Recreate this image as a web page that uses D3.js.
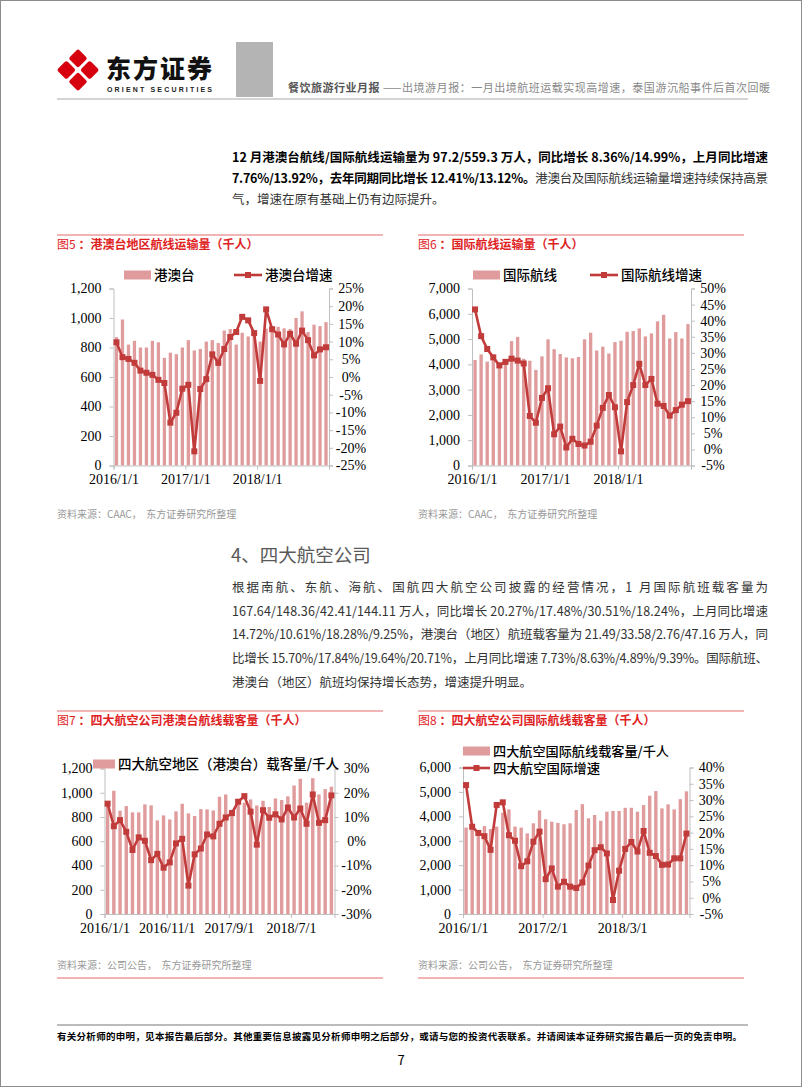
<!DOCTYPE html>
<html>
<head>
<meta charset="utf-8">
<title>餐饮旅游行业月报</title>
<script src="https://cdn.jsdelivr.net/npm/d3@7"></script>
<style>
  body { margin: 0; background: #fff; }
  svg { display: block; font-family: "Noto Sans CJK SC", "Noto Sans", sans-serif; }
  .axis text { font-family: "Liberation Serif", "Times New Roman", serif; font-size: 14px; fill: #000; }
  .axis path, .axis line { stroke: #bfbfbf; }
</style>
</head>
<body>
<svg id="page" width="802" height="1087"></svg>
<script>
// ---- data ----
// 图5 港澳台地区航线运输量（千人），2016/1 - 2018/12
var hkmoBars = [870, 990, 820, 845, 800, 800, 845, 835, 730, 765, 755, 800,
                850, 780, 790, 840, 850, 830, 915, 925, 820, 900, 875, 897,
                840, 928, 915, 940, 930, 925, 1000, 1045, 905, 955, 945, 972];
var hkmoGrowth = [9.8, 5.6, 5.1, 4.0, 1.8, 1.2, 0.6, -0.8, -1.7, -12.9, -10.1, -3.3,
                  -2.2, -21.0, -3.4, -0.6, 6.4, 4.0, 7.9, 11.3, 12.7, 17.0, 16.0, 12.4,
                  -1.1, 19.1, 13.5, 12.0, 9.2, 12.2, 9.4, 13.1, 10.4, 6.1, 7.8, 8.4];
// 图6 国际航线运输量（千人），2016/1 - 2018/12
var intlBars = [4170, 4395, 4105, 4200, 4080, 4180, 4920, 5090, 4220, 4145, 3780, 4315,
                4990, 4600, 4410, 4275, 4240, 4290, 4990, 5250, 4550, 4700, 4430, 4880,
                4935, 5290, 5315, 5420, 5105, 5225, 5700, 5960, 5025, 5275, 5025, 5593];
var intlGrowth = [43.5, 35.2, 31.2, 28.6, 26.1, 27.2, 28.2, 27.6, 26.7, 10.4, 8.3, 16.0,
                  19.0, 4.7, 7.1, 0.6, 3.3, 1.7, 1.2, 2.4, 7.4, 12.9, 16.9, 13.1,
                  -0.6, 14.7, 20.0, 26.6, 20.0, 21.9, 14.2, 13.5, 10.5, 12.2, 13.9, 15.0];
// 图7 四大航空公司港澳台航线载客量（千人），2016/1 - 2019/1
var big4HkBars = [905, 1016, 852, 890, 838, 838, 904, 896, 772, 813, 780, 846,
                  909, 830, 808, 865, 863, 854, 967, 986, 860, 935, 918, 945,
                  895, 934, 882, 953, 940, 970, 1060, 1115, 918, 1120, 986, 1030, 1050];
var big4HkGrowth = [15.5, 6.2, 8.7, 3.9, -3.6, 1.6, 0.2, -7.8, -5.2, -10.9, -8.7, -0.9,
                    1.0, -18.3, -5.4, -3.0, 2.8, 2.0, 7.2, 9.8, 11.6, 16.3, 18.6, 12.2,
                    -1.4, 12.8, 9.7, 11.1, 9.0, 13.9, 9.8, 13.5, 7.2, 19.3, 7.6, 8.7, 18.9];
// 图8 四大航空公司国际航线载客量（千人），2016/1 - 2019/1
var big4IntlBars = [3540, 3560, 3440, 3600, 3480, 3580, 4150, 4285, 3580, 3540, 3300, 3715,
                    4245, 3880, 3780, 3730, 3675, 3715, 4260, 4500, 3920, 4055, 3820, 4190,
                    4220, 4220, 4350, 4350, 4190, 4460, 4845, 5035, 4325, 4490, 4285, 4705, 5025];
var big4IntlGrowth = [34.6, 21.8, 19.9, 18.9, 14.7, 28.5, 29.3, 19.2, 17.5, 9.7, 11.2, 17.2,
                      20.3, 5.7, 9.0, 3.4, 4.9, 3.4, 3.0, 4.7, 9.9, 14.6, 15.5, 13.6,
                      -0.7, 8.3, 15.0, 17.1, 14.2, 20.5, 13.8, 12.8, 10.1, 10.2, 12.1, 12.1, 19.7];

var months36 = d3.timeMonth.range(new Date(2016, 0, 1), new Date(2019, 0, 1));
var months37 = d3.timeMonth.range(new Date(2016, 0, 1), new Date(2019, 1, 1));

var ticks5 = ["2016/1/1", "2017/1/1", "2018/1/1"];
var ticks7 = ["2016/1/1", "2016/11/1", "2017/9/1", "2018/7/1"];
var ticks8 = ["2016/1/1", "2017/2/1", "2018/3/1"];

var barColor = "#e09c9c";
var lineColor = "#c23b3b";
var red = "#e0231f";

var svg = d3.select("#page");

// page frame
svg.append("rect").attr("x", 0.5).attr("y", 0.5).attr("width", 801).attr("height", 1086)
  .attr("fill", "#fff").attr("stroke", "#8c8c8c");

// ---- header ----
var logo = svg.append("g").attr("transform", "translate(78,70) rotate(45)");
[[-15, -15], [1.5, -15], [-15, 1.5], [1.5, 1.5]].forEach(function (p) {
  logo.append("rect").attr("x", p[0]).attr("y", p[1]).attr("width", 13.5).attr("height", 13.5)
    .attr("rx", 2).attr("fill", "#d7000f");
});
svg.append("text").attr("x", 106).attr("y", 78).attr("font-size", 25).attr("font-weight", 900)
  .attr("textLength", 106).attr("fill", "#111").text("东方证券");
svg.append("text").attr("x", 107).attr("y", 92).attr("font-size", 7).attr("font-weight", 700)
  .attr("font-family", "Liberation Sans, Arial, sans-serif")
  .attr("textLength", 105).attr("fill", "#222").text("ORIENT  SECURITIES");
svg.append("rect").attr("x", 236).attr("y", 42).attr("width", 37).attr("height", 55).attr("fill", "#b4b4b4");
var ht = svg.append("text").attr("x", 288).attr("y", 92).attr("font-size", 11).attr("textLength", 482);
ht.append("tspan").attr("font-weight", 700).attr("fill", "#555").text("餐饮旅游行业月报 ");
ht.append("tspan").attr("fill", "#888").text("——出境游月报：一月出境航班运载实现高增速，泰国游沉船事件后首次回暖");
svg.append("line").attr("x1", 57).attr("x2", 748).attr("y1", 99).attr("y2", 99)
  .attr("stroke", "#d4d4d4").attr("stroke-width", 2);

// ---- paragraphs ----
function paragraph(lines, x, y0, lh, width, size) {
  lines.forEach(function (segs, i) {
    var t = svg.append("text").attr("x", x).attr("y", y0 + i * lh).attr("font-size", size);
    if (i < lines.length - 1) t.attr("textLength", width).attr("lengthAdjust", "spacing");
    segs.forEach(function (s) {
      t.append("tspan").attr("font-weight", s[1] ? 700 : 400).attr("fill", s[1] ? "#000" : "#333").text(s[0]);
    });
  });
}
paragraph([
  [["12 月港澳台航线/国际航线运输量为 97.2/559.3 万人，同比增长 8.36%/14.99%，上月同比增速", 1]],
  [["7.76%/13.92%，去年同期同比增长 12.41%/13.12%。", 1], ["港澳台及国际航线运输量增速持续保持高景", 0]],
  [["气，增速在原有基础上仍有边际提升。", 0]]
], 232, 162, 21, 536, 12.5);

svg.append("text").attr("x", 231).attr("y", 562).attr("font-size", 18.5).attr("fill", "#595959").text("4、四大航空公司");
paragraph([
  [["根据南航、东航、海航、国航四大航空公司披露的经营情况，1 月国际航班载客量为", 0]],
  [["167.64/148.36/42.41/144.11 万人，同比增长 20.27%/17.48%/30.51%/18.24%，上月同比增速", 0]],
  [["14.72%/10.61%/18.28%/9.25%，港澳台（地区）航班载客量为 21.49/33.58/2.76/47.16 万人，同", 0]],
  [["比增长 15.70%/17.84%/19.64%/20.71%，上月同比增速 7.73%/8.63%/4.89%/9.39%。国际航班、", 0]],
  [["港澳台（地区）航班均保持增长态势，增速提升明显。", 0]]
], 232, 592, 23.7, 536, 12.5);

// ---- chart helper ----
function figure(cfg) {
  var g = svg.append("g");
  // title and rules
  g.append("line").attr("x1", cfg.fx).attr("x2", cfg.fx + 326).attr("y1", cfg.fy).attr("y2", cfg.fy)
    .attr("stroke", "#e36a6a").attr("stroke-width", 1);
  var tt = g.append("text").attr("x", cfg.fx).attr("y", cfg.fy + 14).attr("font-size", 12).attr("fill", red)
    .attr("xml:space", "preserve");
  tt.append("tspan").text(cfg.title[0]);
  tt.append("tspan").attr("font-weight", 700).text(cfg.title[1]);
  g.append("text").attr("x", cfg.fx).attr("y", cfg.srcY).attr("font-size", 10).attr("fill", "#999")
    .attr("xml:space", "preserve").text(cfg.source);
  if (cfg.bottomRule) {
    g.append("line").attr("x1", cfg.fx).attr("x2", cfg.fx + 326).attr("y1", cfg.bottomRule).attr("y2", cfg.bottomRule)
      .attr("stroke", "#e36a6a").attr("stroke-width", 1);
  }

  var n = cfg.months.length;
  var x = d3.scaleBand().domain(d3.range(n)).range([cfg.left, cfg.right])
    .paddingInner(0.45).paddingOuter(0.225);
  var xt = d3.scaleLinear().domain([0, n]).range([cfg.left, cfg.right]);
  var yL = d3.scaleLinear().domain(cfg.leftDomain).range([cfg.bottom, cfg.top]);
  var yR = d3.scaleLinear().domain(cfg.rightDomain).range([cfg.bottom, cfg.top]);

  g.selectAll("rect.bar").data(cfg.bars).enter().append("rect").attr("class", "bar")
    .attr("x", function (d, i) { return x(i); })
    .attr("width", x.bandwidth())
    .attr("y", function (d) { return yL(d); })
    .attr("height", function (d) { return cfg.bottom - yL(d); })
    .attr("fill", barColor);

  var axB = g.append("g").attr("class", "axis").attr("transform", "translate(0," + cfg.bottom + ")")
    .call(d3.axisBottom(xt).tickValues(cfg.tickIdx).tickSize(4).tickPadding(5)
      .tickFormat(function (d, i) { return cfg.tickLabels[i]; }));
  var axL = g.append("g").attr("class", "axis").attr("transform", "translate(" + cfg.left + ",0)")
    .call(d3.axisLeft(yL).tickValues(d3.range(cfg.leftDomain[0], cfg.leftDomain[1] + 1, cfg.leftStep))
      .tickSize(4).tickPadding(8).tickFormat(d3.format(",")));
  var axR = g.append("g").attr("class", "axis").attr("transform", "translate(" + cfg.right + ",0)")
    .call(d3.axisRight(yR).tickValues(d3.range(cfg.rightDomain[0], cfg.rightDomain[1] + 0.1, cfg.rightStep))
      .tickSize(4).tickFormat(function (d) { return d + "%"; }));
  axR.selectAll("text").attr("text-anchor", "middle").attr("x", 22);
  [axB, axL, axR].forEach(function (a) { a.select(".domain").attr("stroke", "#bfbfbf"); });

  var line = d3.line()
    .x(function (d, i) { return x(i) + x.bandwidth() / 2; })
    .y(function (d) { return yR(d); });
  g.append("path").datum(cfg.growth).attr("d", line).attr("fill", "none")
    .attr("stroke", lineColor).attr("stroke-width", 2.6).attr("stroke-linejoin", "round");
  g.selectAll("rect.mk").data(cfg.growth).enter().append("rect").attr("class", "mk")
    .attr("x", function (d, i) { return x(i) + x.bandwidth() / 2 - 3; })
    .attr("y", function (d) { return yR(d) - 3; })
    .attr("width", 6).attr("height", 6).attr("fill", lineColor);

  // legend
  cfg.legend.forEach(function (L) {
    if (L.type === "bar") {
      g.append("rect").attr("x", L.x).attr("y", L.y - 4.5).attr("width", L.w).attr("height", 9).attr("fill", barColor);
    } else {
      g.append("line").attr("x1", L.x).attr("x2", L.x + L.w).attr("y1", L.y).attr("y2", L.y)
        .attr("stroke", lineColor).attr("stroke-width", 2.6);
      g.append("rect").attr("x", L.x + L.w / 2 - 3).attr("y", L.y - 3).attr("width", 6).attr("height", 6).attr("fill", lineColor);
    }
    var lt = g.append("text").attr("x", L.x + L.w + 3).attr("y", L.y + 4.5).attr("font-size", L.size)
      .attr("font-weight", 500).attr("fill", "#000").text(L.text);
    if (L.len) lt.attr("textLength", L.len).attr("lengthAdjust", "spacingAndGlyphs");
  });
}

figure({
  fx: 57, fy: 235, title: ["图5", " ：港澳台地区航线运输量（千人）"], srcY: 518,
  source: "资料来源：CAAC，  东方证券研究所整理",
  left: 113.5, right: 329, top: 288.5, bottom: 465.5,
  months: months36, bars: hkmoBars, growth: hkmoGrowth,
  leftDomain: [0, 1200], leftStep: 200, rightDomain: [-25, 25], rightStep: 5,
  tickIdx: [0, 12, 24, 36], tickLabels: ticks5.concat([""]),
  legend: [
    { type: "bar", x: 124, y: 275, w: 27, text: "港澳台", size: 13.5 },
    { type: "line", x: 234, y: 275, w: 28, text: "港澳台增速", size: 13.5 }
  ]
});
figure({
  fx: 418, fy: 235, title: ["图6", " ：国际航线运输量（千人）"], srcY: 518,
  source: "资料来源：CAAC，  东方证券研究所整理",
  left: 472, right: 691, top: 288.5, bottom: 465.5,
  months: months36, bars: intlBars, growth: intlGrowth,
  leftDomain: [0, 7000], leftStep: 1000, rightDomain: [-5, 50], rightStep: 5,
  tickIdx: [0, 12, 24, 36], tickLabels: ticks5.concat([""]),
  legend: [
    { type: "bar", x: 473, y: 275, w: 27, text: "国际航线", size: 13.5 },
    { type: "line", x: 590, y: 275, w: 28, text: "国际航线增速", size: 13.5 }
  ]
});
figure({
  fx: 57, fy: 711, title: ["图7", " ：四大航空公司港澳台航线载客量（千人）"], srcY: 969,
  source: "资料来源：公司公告，  东方证券研究所整理", bottomRule: 978,
  left: 104.5, right: 334.5, top: 768.5, bottom: 914,
  months: months37, bars: big4HkBars, growth: big4HkGrowth,
  leftDomain: [0, 1200], leftStep: 200, rightDomain: [-30, 30], rightStep: 10,
  tickIdx: [0, 10, 20, 30], tickLabels: ticks7,
  legend: [
    { type: "bar", x: 93, y: 764, w: 22, text: "四大航空地区（港澳台）载客量/千人", size: 13.5, len: 221 }
  ]
});
figure({
  fx: 418, fy: 711, title: ["图8", " ：四大航空公司国际航线载客量（千人）"], srcY: 969,
  source: "资料来源：公司公告，  东方证券研究所整理", bottomRule: 978,
  left: 463, right: 689.5, top: 767.5, bottom: 914,
  months: months37, bars: big4IntlBars, growth: big4IntlGrowth,
  leftDomain: [0, 6000], leftStep: 1000, rightDomain: [-5, 40], rightStep: 5,
  tickIdx: [0, 13, 26], tickLabels: ticks8,
  legend: [
    { type: "bar", x: 463, y: 751, w: 27, text: "四大航空国际航线载客量/千人", size: 12.8, len: 176 },
    { type: "line", x: 463, y: 768, w: 27, text: "四大航空国际增速", size: 12.8, len: 107 }
  ]
});

// ---- footer ----
svg.append("line").attr("x1", 57).attr("x2", 748).attr("y1", 1025).attr("y2", 1025)
  .attr("stroke", "#bbb").attr("stroke-width", 2);
svg.append("text").attr("x", 57).attr("y", 1040).attr("font-size", 9.5).attr("font-weight", 700)
  .attr("textLength", 685).attr("fill", "#000")
  .text("有关分析师的申明，见本报告最后部分。其他重要信息披露见分析师申明之后部分，或请与您的投资代表联系。并请阅读本证券研究报告最后一页的免责申明。");
svg.append("text").attr("x", 401).attr("y", 1065).attr("font-size", 13).attr("text-anchor", "middle")
  .attr("fill", "#000").text("7");
</script>
</body>
</html>
